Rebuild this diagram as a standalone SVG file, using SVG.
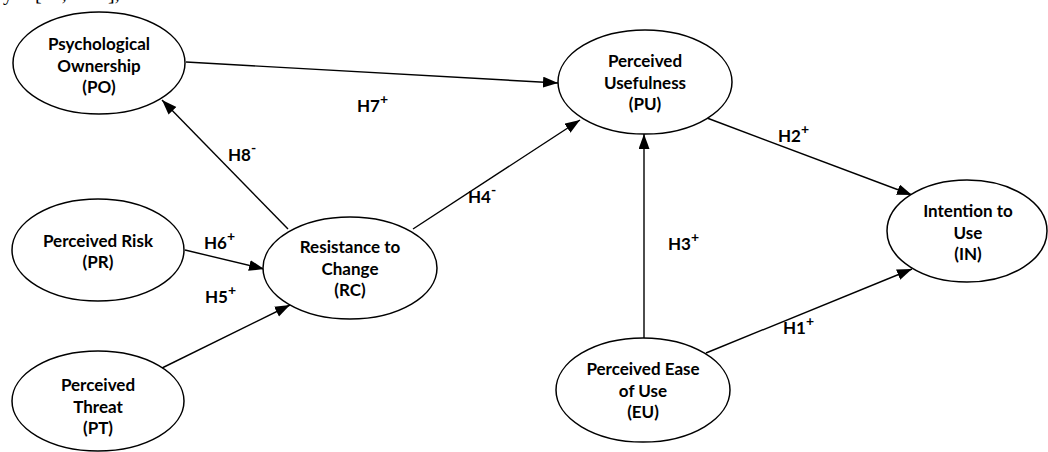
<svg xmlns="http://www.w3.org/2000/svg" width="1048" height="452" viewBox="0 0 1048 452">
<style>
.n{fill:#fff;stroke:#000;stroke-width:1.5}
.t{font-family:Lato,"Liberation Sans",sans-serif;font-weight:bold;font-size:17px;fill:#000;text-anchor:middle}
.h{font-family:Lato,"Liberation Sans",sans-serif;font-weight:bold;font-size:17px;fill:#000}
.s{font-size:14px}
.c{stroke:#000;stroke-width:1.4;fill:none;marker-end:url(#a)}
</style>
<defs>
<marker id="a" markerUnits="userSpaceOnUse" markerWidth="16" markerHeight="12" refX="15" refY="5.5" orient="auto">
<path d="M0,0 L15,5.5 L0,11 z" fill="#000"/>
</marker>
</defs>
<rect width="1048" height="452" fill="#fff"/>
<text font-family="'Liberation Serif',serif" font-size="20" y="0"><tspan x="3">y</tspan><tspan x="35">[33,</tspan><tspan x="88">34],</tspan></text>
<g id="connectors">
<line class="c" x1="186" y1="62" x2="558" y2="83"/>
<line class="c" x1="288" y1="229" x2="162" y2="100"/>
<line class="c" x1="413" y1="229" x2="580" y2="120"/>
<line class="c" x1="185" y1="250" x2="264" y2="269"/>
<line class="c" x1="160" y1="369" x2="290" y2="305"/>
<line class="c" x1="707" y1="118" x2="912" y2="195"/>
<line class="c" x1="644" y1="338" x2="644" y2="134"/>
<line class="c" x1="706" y1="353" x2="912" y2="269"/>
</g>
<g id="labels">
<text class="h" x="357" y="112">H7<tspan class="s" dy="-8">+</tspan></text>
<text class="h" x="228" y="161">H8<tspan class="s" dy="-8">-</tspan></text>
<text class="h" x="468" y="203">H4<tspan class="s" dy="-8">-</tspan></text>
<text class="h" x="204" y="249">H6<tspan class="s" dy="-8">+</tspan></text>
<text class="h" x="205" y="303">H5<tspan class="s" dy="-8">+</tspan></text>
<text class="h" x="778" y="142">H2<tspan class="s" dy="-8">+</tspan></text>
<text class="h" x="668" y="250">H3<tspan class="s" dy="-8">+</tspan></text>
<text class="h" x="783" y="334">H1<tspan class="s" dy="-8">+</tspan></text>
</g>
<g id="PO">
<ellipse class="n" cx="99" cy="63" rx="86" ry="51"/>
<text class="t" x="99" y="50">Psychological</text>
<text class="t" x="99" y="72">Ownership</text>
<text class="t" x="99" y="93">(PO)</text>
</g>
<g id="PU">
<ellipse class="n" cx="645" cy="82" rx="87" ry="52"/>
<text class="t" x="645" y="67">Perceived</text>
<text class="t" x="645" y="89">Usefulness</text>
<text class="t" x="645" y="110">(PU)</text>
</g>
<g id="IN">
<ellipse class="n" cx="967" cy="231" rx="80" ry="51"/>
<text class="t" x="968" y="217">Intention to</text>
<text class="t" x="968" y="239">Use</text>
<text class="t" x="968" y="260">(IN)</text>
</g>
<g id="EU">
<ellipse class="n" cx="643" cy="390" rx="87" ry="52"/>
<text class="t" x="643" y="375">Perceived Ease</text>
<text class="t" x="643" y="397">of Use</text>
<text class="t" x="643" y="418">(EU)</text>
</g>
<g id="PT">
<ellipse class="n" cx="98" cy="401" rx="86" ry="50"/>
<text class="t" x="98" y="391">Perceived</text>
<text class="t" x="98" y="413">Threat</text>
<text class="t" x="98" y="434">(PT)</text>
</g>
<g id="RC">
<ellipse class="n" cx="350" cy="268" rx="87" ry="51"/>
<text class="t" x="350" y="253">Resistance to</text>
<text class="t" x="350" y="275">Change</text>
<text class="t" x="350" y="296">(RC)</text>
</g>
<g id="PR">
<ellipse class="n" cx="98" cy="250" rx="86" ry="51"/>
<text class="t" x="98" y="247">Perceived Risk</text>
<text class="t" x="98" y="268">(PR)</text>
</g>
</svg>
